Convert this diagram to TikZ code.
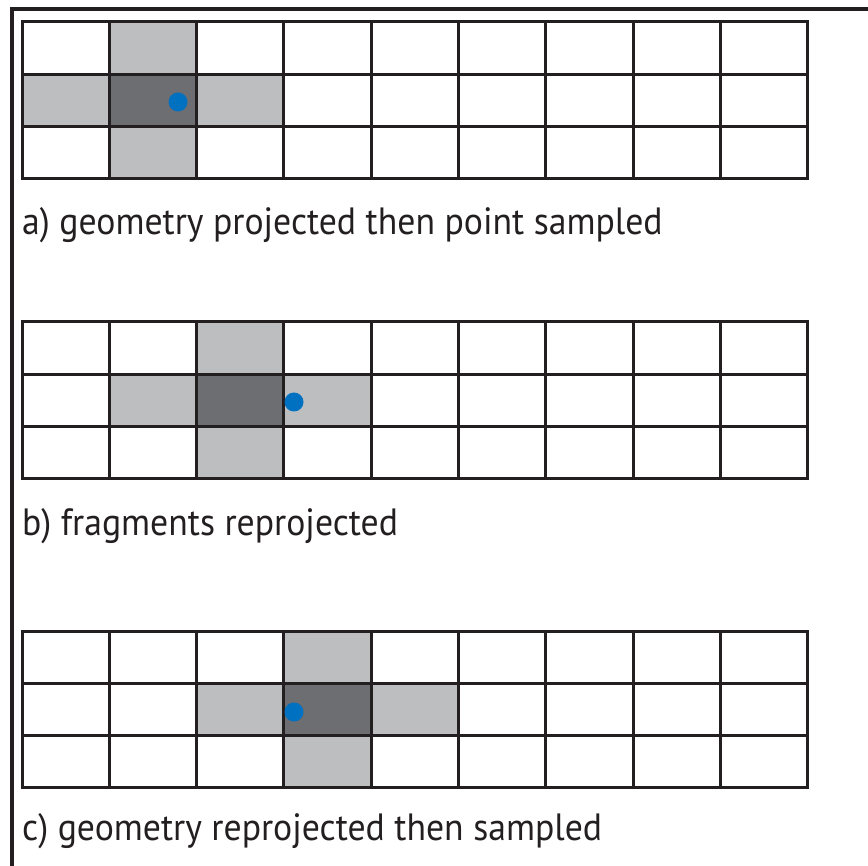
\documentclass[tikz,border=0pt]{standalone}
\usepackage{fontspec}
\setmainfont{PT Sans}[FakeStretch=0.94]
\usepackage{xcolor}
\usepackage{tikz}
\usetikzlibrary{positioning}

\definecolor{lightcell}{HTML}{BCBEC0}
\definecolor{darkcell}{HTML}{6D6E71}
\definecolor{inkline}{HTML}{231F20}
\definecolor{sampleblue}{HTML}{0070C0}

\newcommand{\cellw}{87.33}
\newcommand{\cellh}{52.33}

\begin{document}
\begin{tikzpicture}[
    x=1pt, y=-1pt,
    font=\fontsize{38}{46}\selectfont,
    frame/.style={draw=inkline, line width=3.2pt},
    gridline/.style={draw=inkline, line width=3pt, line cap=rect},
    near/.style={fill=lightcell},
    hit/.style={fill=darkcell},
    sample/.style={circle, fill=sampleblue, inner sep=0pt, minimum size=19pt},
    caption/.style={anchor=base west, inner sep=0pt, text=inkline},
]
\useasboundingbox (0,0) rectangle (868,866);

% outer frame, only top and left edges inside the page
\draw[frame] (12,866) -- (12,9) -- (868,9);

% three 9x3 pixel grids with a shaded cross
\foreach \top/\c in {22/1, 322/2, 631/3} {
  \begin{scope}[shift={(22,\top)}]
    \foreach \i/\j in {\c/0, {\c-1}/1, {\c+1}/1, \c/2}
      \fill[near] ({(\i)*\cellw},{(\j)*\cellh}) rectangle ({(\i+1)*\cellw},{(\j+1)*\cellh});
    \fill[hit] ({\c*\cellw},\cellh) rectangle ({(\c+1)*\cellw},{2*\cellh});
    \foreach \k in {0,...,3}
      \draw[gridline] (0,{\k*\cellh}) -- ({9*\cellw},{\k*\cellh});
    \foreach \k in {0,...,9}
      \draw[gridline] ({\k*\cellw},0) -- ({\k*\cellw},{3*\cellh});
  \end{scope}
}

% sample points
\node[sample] (sampa) at (178,102) {};
\node[sample] (sampb) at (294,402) {};
\node[sample] (sampc) at (294,712) {};

% captions
\node[caption] (capa) at (22,235) {a) geometry projected then point sampled};
\node[caption] (capb) at (22,536) {b) fragments reprojected};
\node[caption] (capc) at (22,840) {c) geometry reprojected then sampled};
\end{tikzpicture}
\end{document}
